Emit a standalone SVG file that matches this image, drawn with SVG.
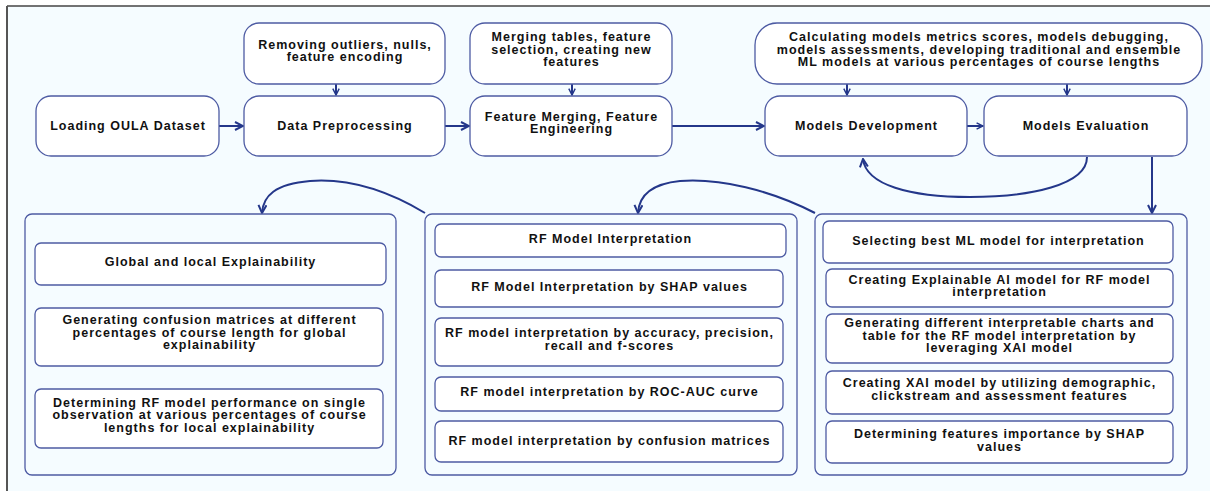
<svg xmlns="http://www.w3.org/2000/svg" width="1210" height="491" viewBox="0 0 1210 491">
<style>
.box{fill:#ffffff;stroke:#4d5ba3;stroke-width:1.3}
.panel{fill:#f5fcff;stroke:#4d5ba3;stroke-width:1.3}
.t{font-family:"Liberation Sans",Arial,sans-serif;font-weight:bold;font-size:12.5px;letter-spacing:1px;fill:#111;text-anchor:middle}
.c{fill:none;stroke:#24378a;stroke-width:2}
</style>
<defs>
<marker id="ah" viewBox="0 0 10 10" refX="9" refY="5" markerWidth="10" markerHeight="10" markerUnits="userSpaceOnUse" orient="auto">
<path d="M1,1 L9,5 L1,9" fill="none" stroke="#24378a" stroke-width="2"/>
</marker>
<marker id="ahs" viewBox="0 0 10 10" refX="9" refY="5" markerWidth="8" markerHeight="8" markerUnits="userSpaceOnUse" orient="auto">
<path d="M1,1 L9,5 L1,9" fill="none" stroke="#24378a" stroke-width="1.8"/>
</marker>
</defs>
<rect x="0" y="0" width="1210" height="491" fill="#ffffff"/>
<rect x="7" y="6" width="1210" height="491" fill="#f5fcff"/>
<line x1="7" y1="6" x2="1210" y2="6" stroke="#444" stroke-width="1.5"/>
<line x1="7" y1="6" x2="7" y2="491" stroke="#555" stroke-width="2"/>

<g id="connectors">
<line class="c" x1="219" y1="126" x2="243" y2="126" marker-end="url(#ah)"/>
<line class="c" x1="336" y1="84" x2="336" y2="95" marker-end="url(#ahs)"/>
<line class="c" x1="445" y1="126" x2="469" y2="126" marker-end="url(#ah)"/>
<line class="c" x1="572" y1="84" x2="572" y2="95" marker-end="url(#ahs)"/>
<line class="c" x1="672" y1="126" x2="764" y2="126" marker-end="url(#ah)"/>
<line class="c" x1="847" y1="84" x2="847" y2="95" marker-end="url(#ahs)"/>
<line class="c" x1="1067" y1="84" x2="1067" y2="95" marker-end="url(#ahs)"/>
<line class="c" x1="967" y1="126" x2="983" y2="126" marker-end="url(#ahs)"/>
<path class="c" d="M1087,157 C1087,185 1030,197 970,197 C910,197 866,185 863,159" marker-end="url(#ah)"/>
<line class="c" x1="1152" y1="157" x2="1152" y2="213" marker-end="url(#ah)"/>
<path class="c" d="M815,213 C770,190 720,178 680,181 C650,184 639,196 638,213" marker-end="url(#ah)" stroke-width="1.8"/>
<path class="c" d="M425,213 C390,192 350,178 310,181 C275,184 263,196 262,213" marker-end="url(#ah)" stroke-width="1.8"/>
</g>

<g id="load"><rect class="box" x="36" y="96" width="183" height="60" rx="15"/><text class="t" x="128" y="130">Loading OULA Dataset</text></g>
<g id="remove"><rect class="box" x="244" y="23" width="201" height="61" rx="15"/><text class="t" x="345" y="49">Removing outliers, nulls,</text><text class="t" x="345" y="61">feature encoding</text></g>
<g id="prep"><rect class="box" x="244" y="96" width="201" height="60" rx="15"/><text class="t" x="345" y="130">Data Preprocessing</text></g>
<g id="merge"><rect class="box" x="470" y="23" width="202" height="61" rx="15"/><text class="t" x="571.5" y="41">Merging tables, feature</text><text class="t" x="571.5" y="54">selection, creating new</text><text class="t" x="571.5" y="66">features</text></g>
<g id="fe"><rect class="box" x="470" y="96" width="202" height="60" rx="15"/><text class="t" x="571.5" y="121">Feature Merging, Feature</text><text class="t" x="571.5" y="133">Engineering</text></g>
<g id="calc"><rect class="box" x="755" y="23" width="447" height="61" rx="22"/><text class="t" x="979" y="41">Calculating models metrics scores, models debugging,</text><text class="t" x="979" y="54">models assessments, developing traditional and ensemble</text><text class="t" x="979" y="66">ML models at various percentages of course lengths</text></g>
<g id="dev"><rect class="box" x="765" y="96" width="202" height="60" rx="15"/><text class="t" x="866.5" y="130">Models Development</text></g>
<g id="eval"><rect class="box" x="984" y="96" width="203" height="60" rx="15"/><text class="t" x="1086" y="130">Models Evaluation</text></g>

<g id="panel-left">
<rect class="panel" x="25" y="214" width="371" height="261" rx="7"/>
<g id="global"><rect class="box" x="35" y="243" width="351" height="42" rx="6"/><text class="t" x="210.5" y="266">Global and local Explainability</text></g>
<g id="genconf"><rect class="box" x="35" y="308" width="348" height="58" rx="6"/><text class="t" x="209.5" y="324">Generating confusion matrices at different</text><text class="t" x="209.5" y="337">percentages of course length for global</text><text class="t" x="209.5" y="349">explainability</text></g>
<g id="detrf"><rect class="box" x="35" y="389" width="348" height="59" rx="6"/><text class="t" x="209.5" y="407">Determining RF model performance on single</text><text class="t" x="209.5" y="419">observation at various percentages of course</text><text class="t" x="209.5" y="432">lengths for local explainability</text></g>
</g>

<g id="panel-mid">
<rect class="panel" x="425" y="214" width="372" height="261" rx="7"/>
<g id="rfint"><rect class="box" x="435" y="224" width="351" height="33" rx="6"/><text class="t" x="610.5" y="243">RF Model Interpretation</text></g>
<g id="rfshap"><rect class="box" x="435" y="270" width="348" height="37" rx="6"/><text class="t" x="609.5" y="291">RF Model Interpretation by SHAP values</text></g>
<g id="rfacc"><rect class="box" x="435" y="318" width="348" height="48" rx="6"/><text class="t" x="609.5" y="337">RF model interpretation by accuracy, precision,</text><text class="t" x="609.5" y="350">recall and f-scores</text></g>
<g id="rfroc"><rect class="box" x="435" y="377" width="348" height="34" rx="6"/><text class="t" x="609.5" y="396">RF model interpretation by ROC-AUC curve</text></g>
<g id="rfconf"><rect class="box" x="435" y="421" width="348" height="41" rx="6"/><text class="t" x="609.5" y="445">RF model interpretation by confusion matrices</text></g>
</g>

<g id="panel-right">
<rect class="panel" x="815" y="214" width="372" height="261" rx="7"/>
<g id="select"><rect class="box" x="823" y="221" width="350" height="42" rx="6"/><text class="t" x="998.5" y="245">Selecting best ML model for interpretation</text></g>
<g id="xai"><rect class="box" x="826" y="269" width="347" height="38" rx="6"/><text class="t" x="999.5" y="284">Creating Explainable AI model for RF model</text><text class="t" x="999.5" y="296">interpretation</text></g>
<g id="charts"><rect class="box" x="826" y="314" width="347" height="49" rx="6"/><text class="t" x="999.5" y="327">Generating different interpretable charts and</text><text class="t" x="999.5" y="340">table for the RF model interpretation by</text><text class="t" x="999.5" y="352">leveraging XAI model</text></g>
<g id="xaidemo"><rect class="box" x="826" y="371" width="347" height="43" rx="6"/><text class="t" x="999.5" y="387">Creating XAI model by utilizing demographic,</text><text class="t" x="999.5" y="400">clickstream and assessment features</text></g>
<g id="featimp"><rect class="box" x="826" y="421" width="347" height="42" rx="6"/><text class="t" x="999.5" y="438">Determining features importance by SHAP</text><text class="t" x="999.5" y="451">values</text></g>
</g>
</svg>
